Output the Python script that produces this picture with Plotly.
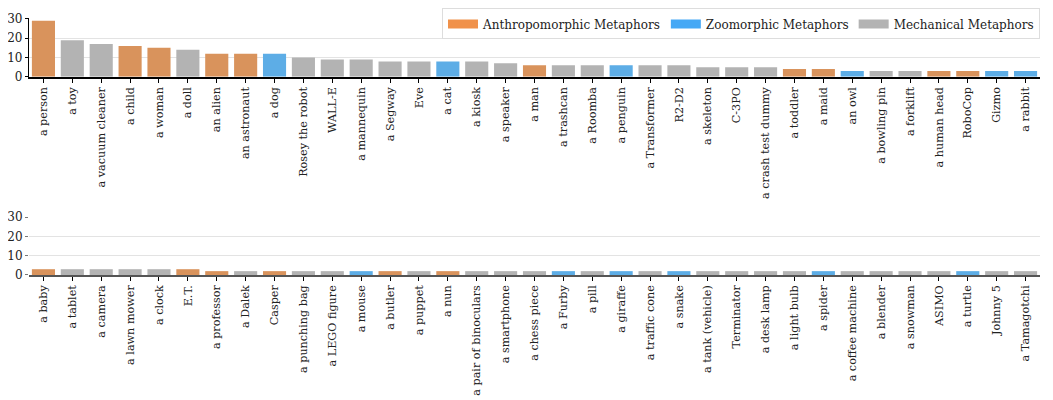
import plotly.graph_objects as go

# categories, counts and metaphor type
top_labels = [
    "a person", "a toy", "a vacuum cleaner", "a child", "a woman", "a doll",
    "an alien", "an astronaut", "a dog", "Rosey the robot", "WALL-E",
    "a mannequin", "a Segway", "Eve", "a cat", "a kiosk", "a speaker", "a man",
    "a trashcan", "a Roomba", "a penguin", "a Transformer", "R2-D2",
    "a skeleton", "C-3PO", "a crash test dummy", "a toddler", "a maid",
    "an owl", "a bowling pin", "a forklift", "a human head", "RoboCop",
    "Gizmo", "a rabbit",
]
top_counts = [29, 19, 17, 16, 15, 14, 12, 12, 12, 10, 9, 9, 8, 8, 8, 8, 7, 6,
              6, 6, 6, 6, 6, 5, 5, 5, 4, 4, 3, 3, 3, 3, 3, 3, 3]
top_types = ["A", "M", "M", "A", "A", "M", "A", "A", "Z", "M", "M", "M", "M",
             "M", "Z", "M", "M", "A", "M", "M", "Z", "M", "M", "M", "M", "M",
             "A", "A", "Z", "M", "M", "A", "A", "Z", "Z"]

bottom_labels = [
    "a baby", "a tablet", "a camera", "a lawn mower", "a clock", "E.T.",
    "a professor", "a Dalek", "Casper", "a punching bag", "a LEGO figure",
    "a mouse", "a butler", "a puppet", "a nun", "a pair of binoculars",
    "a smartphone", "a chess piece", "a Furby", "a pill", "a giraffe",
    "a traffic cone", "a snake", "a tank (vehicle)", "Terminator",
    "a desk lamp", "a light bulb", "a spider", "a coffee machine",
    "a blender", "a snowman", "ASIMO", "a turtle", "Johnny 5", "a Tamagotchi",
]
bottom_counts = [3, 3, 3, 3, 3, 3, 2, 2, 2, 2, 2, 2, 2, 2, 2, 2, 2, 2, 2, 2,
                 2, 2, 2, 2, 2, 2, 2, 2, 2, 2, 2, 2, 2, 2, 2]
bottom_types = ["A", "M", "M", "M", "M", "A", "A", "M", "A", "M", "M", "Z",
                "A", "M", "A", "M", "M", "M", "Z", "M", "Z", "M", "Z", "M",
                "M", "M", "M", "Z", "M", "M", "M", "M", "Z", "M", "M"]

legend_names = {"A": "Anthropomorphic Metaphors",
                "Z": "Zoomorphic Metaphors",
                "M": "Mechanical Metaphors"}

BAR_COLORS = {"A": "#D9935C", "Z": "#5DADE6", "M": "#B3B3B3"}
LEGEND_COLORS = {"A": "#F0914A", "Z": "#45A8F5", "M": "#B3B3B3"}
FONT = "DejaVu Serif"
Y_MAX = 30.45

fig = go.Figure()

fig.add_trace(go.Bar(
    x=top_labels, y=top_counts,
    marker=dict(color=[BAR_COLORS[t] for t in top_types], line=dict(width=0)),
    width=0.8, showlegend=False, xaxis="x", yaxis="y",
))
fig.add_trace(go.Bar(
    x=bottom_labels, y=bottom_counts,
    marker=dict(color=[BAR_COLORS[t] for t in bottom_types], line=dict(width=0)),
    width=0.8, showlegend=False, xaxis="x2", yaxis="y2",
))

# legend-only entries drawn as thick line patches
for key in ["A", "Z", "M"]:
    fig.add_trace(go.Scatter(
        x=[None], y=[None], mode="lines", name=legend_names[key],
        line=dict(color=LEGEND_COLORS[key], width=9),
        xaxis="x", yaxis="y",
    ))

x_common = dict(
    type="category", range=[-0.5, 34.5], tickangle=-90,
    ticks="outside", ticklen=4, tickcolor="black", showgrid=False,
    tickfont=dict(family=FONT, size=11.2, color="#222"),
    showline=True, linewidth=1.5, automargin=False,
)
y_common = dict(
    range=[0, Y_MAX], tickvals=[0, 10, 20, 30],
    showgrid=True, gridcolor="#E3E3E3", gridwidth=1.2, zeroline=False,
    tickfont=dict(family=FONT, size=12, color="#222"),
    ticks="outside", ticklen=3, automargin=False,
)

# the page body adds an 8px offset, margins compensate for it
fig.update_layout(
    width=1053, height=400,
    margin=dict(l=21, r=21, t=9.5, b=132.5, autoexpand=False),
    paper_bgcolor="white", plot_bgcolor="white",
    bargap=0.2,
    font=dict(family=FONT, size=11.5, color="#222"),
    xaxis=dict(**x_common, anchor="y", linecolor="black"),
    yaxis=dict(**y_common, domain=[0.771, 1.0], anchor="x",
               showline=True, linecolor="black", linewidth=1.2,
               tickcolor="black"),
    xaxis2=dict(**x_common, anchor="y2", linecolor="#555"),
    yaxis2=dict(**y_common, domain=[0.0, 0.229], anchor="x2",
                showline=False, tickcolor="#777"),
    legend=dict(
        orientation="h", x=1.0, xanchor="right", y=1.037, yanchor="top",
        bordercolor="#DDDDDD", borderwidth=1, bgcolor="white",
        font=dict(family=FONT, size=12, color="#222"),
        itemwidth=30, tracegroupgap=0,
    ),
)

fig.write_html("out.html")
